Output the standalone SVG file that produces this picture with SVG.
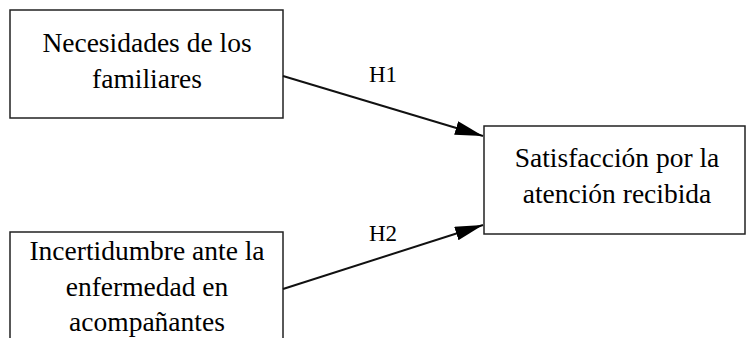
<svg xmlns="http://www.w3.org/2000/svg" width="747" height="338" viewBox="0 0 747 338">
<style>
.box{fill:#fff;stroke:#222;stroke-width:1.5}
.t{font-family:"Liberation Serif","Times New Roman",serif;font-size:27.5px;fill:#000;text-anchor:middle}
.lbl{font-family:"Liberation Serif","Times New Roman",serif;font-size:23px;fill:#000;text-anchor:middle}
.edge{stroke:#111;stroke-width:2;fill:none;marker-end:url(#arr)}
</style>
<defs>
<marker id="arr" markerUnits="userSpaceOnUse" markerWidth="28" markerHeight="14" refX="28" refY="7" orient="auto">
<path d="M0,0 L28,7 L0,14 z" fill="#000"/>
</marker>
</defs>
<rect width="747" height="338" fill="#fff"/>
<g id="n1">
<rect class="box" x="10" y="10" width="273" height="108"/>
<text class="t" x="147" y="52">Necesidades de los</text>
<text class="t" x="147" y="88">familiares</text>
</g>
<g id="n2">
<rect class="box" x="10" y="232" width="273" height="120"/>
<text class="t" x="147" y="260">Incertidumbre ante la</text>
<text class="t" x="147" y="296">enfermedad en</text>
<text class="t" x="147" y="331">acompañantes</text>
</g>
<g id="n3">
<rect class="box" x="484" y="126" width="261" height="108"/>
<text class="t" x="617" y="167">Satisfacción por la</text>
<text class="t" x="617" y="203">atención recibida</text>
</g>
<g id="edges">
<line class="edge" x1="283" y1="76" x2="483" y2="136"/>
<text class="lbl" x="383" y="82">H1</text>
<line class="edge" x1="283" y1="289" x2="483" y2="225"/>
<text class="lbl" x="383" y="241">H2</text>
</g>
</svg>
